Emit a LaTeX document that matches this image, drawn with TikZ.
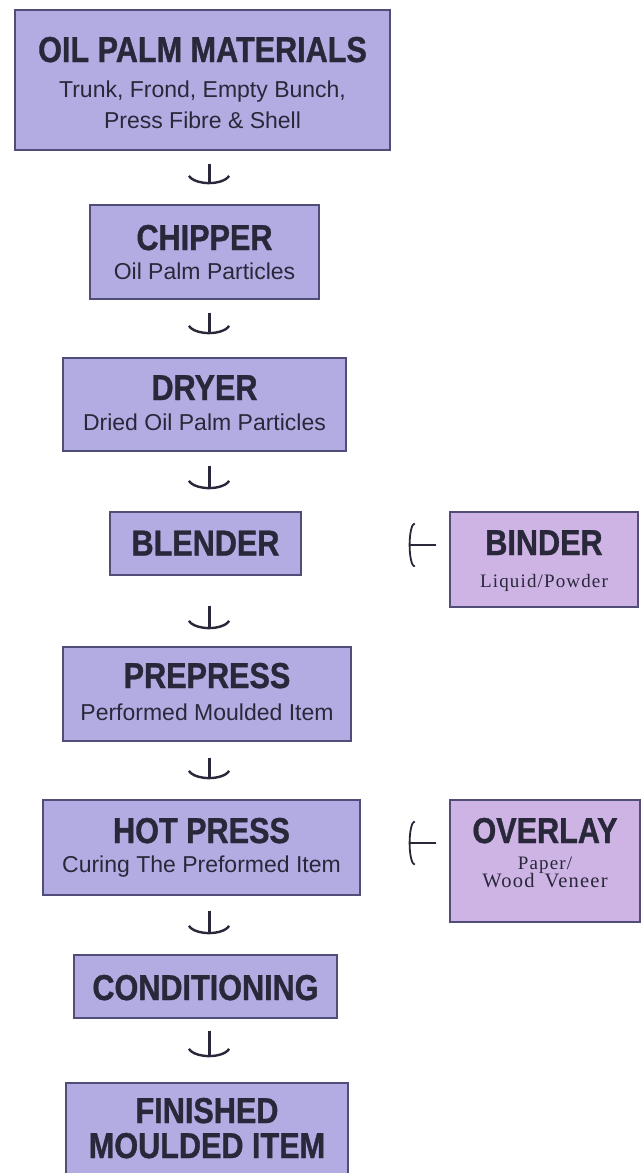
\documentclass[tikz,border=0pt]{standalone}
\usepackage{fontspec}
\setmainfont{Liberation Sans}
\newfontfamily\hdfont[FakeStretch=0.85,FakeBold=1]{Liberation Sans}
\newfontfamily\serfont[LetterSpace=6]{Liberation Serif}
\usetikzlibrary{arrows.meta}
\definecolor{boxfill}{RGB}{178,172,226}
\definecolor{sidefill}{RGB}{206,180,228}
\definecolor{boxline}{RGB}{80,78,120}
\definecolor{ink}{RGB}{40,40,58}
\newcommand\myflow[5]{%
  \draw[#1,stemline,shorten <=#4,shorten >=#5] #2 -- #3;
  \draw[#1,shorten <=#4,shorten >=#5] #2 -- #3;}
\begin{document}
\begin{tikzpicture}[x=1pt,y=-1pt,
  stepbox/.style={draw=boxline,line width=1.4pt,fill=boxfill,inner sep=0pt},
  sidebox/.style={stepbox,fill=sidefill},
  ttl/.style={anchor=base,inner sep=0pt,text=ink,font=\hdfont\bfseries\fontsize{36}{36}\selectfont},
  sub/.style={anchor=base,inner sep=0pt,text=ink,font=\fontsize{23}{23}\selectfont},
  ser/.style={anchor=base,inner sep=0pt,text=ink,font=\serfont\fontsize{19}{19}\selectfont},
  flow/.style={draw=ink,line width=3pt,
    -{Arc Barb[length=11pt,width=44pt,arc=150,line width=2.4pt 0]}},
  side/.style={draw=ink,line width=2.6pt,
    -{Arc Barb[length=6pt,width=45pt,arc=180,line width=1.8pt 0]}},
  stemline/.style={arrows=-}]
\useasboundingbox[fill=white] (0,0) rectangle (642,1173);
% boxes
\node[stepbox,minimum width=375pt,minimum height=140pt] (oil) at (202.5,80) {};
\node[stepbox,minimum width=229pt,minimum height=94pt] (chip) at (204.5,252) {};
\node[stepbox,minimum width=283pt,minimum height=93pt] (dry) at (204.5,404.5) {};
\node[stepbox,minimum width=191pt,minimum height=63pt] (blend) at (205.5,543.5) {};
\node[sidebox,minimum width=188pt,minimum height=95pt] (bind) at (544,559.5) {};
\node[stepbox,minimum width=288pt,minimum height=94pt] (pre) at (207,694) {};
\node[stepbox,minimum width=317pt,minimum height=95pt] (hot) at (201.5,847.5) {};
\node[sidebox,minimum width=190pt,minimum height=122pt] (over) at (545,861) {};
\node[stepbox,minimum width=263pt,minimum height=63pt] (cond) at (205.5,986.5) {};
\node[stepbox,minimum width=282pt,minimum height=107pt] (fin) at (207,1136.5) {};
% texts
\node[ttl] (oilt) at ([yshift=18pt]oil.center) {OIL PALM MATERIALS};
\node[sub] (oils1) at ([yshift=-17pt]oil.center) {Trunk, Frond, Empty Bunch,};
\node[sub] (oils2) at ([yshift=-48pt]oil.center) {Press Fibre \& Shell};
\node[ttl] (chipt) at ([yshift=2pt]chip.center) {CHIPPER};
\node[sub] (chips) at ([yshift=-27pt]chip.center) {Oil Palm Particles};
\node[ttl] (dryt) at ([yshift=4.5pt]dry.center) {DRYER};
\node[sub] (drys) at ([yshift=-25.5pt]dry.center) {Dried Oil Palm Particles};
\node[ttl] (blendt) at ([yshift=-12pt]blend.center) {BLENDER};
\node[ttl] (bindt) at ([yshift=4.5pt]bind.center) {BINDER};
\node[ser] (binds) at ([yshift=-27.5pt]bind.center) {Liquid/Powder};
\node[ttl] (pret) at ([yshift=6pt]pre.center) {PREPRESS};
\node[sub] (pres) at ([yshift=-26pt]pre.center) {Performed Moulded Item};
\node[ttl] (hott) at ([yshift=4.5pt]hot.center) {HOT PRESS};
\node[sub] (hots) at ([yshift=-24.5pt]hot.center) {Curing The Preformed Item};
\node[ttl] (overt) at ([yshift=18pt]over.center) {OVERLAY};
\node[ser] (overs1) at ([yshift=-8pt]over.center) {Paper/};
\node[ser,font=\serfont\fontsize{20.5}{20.5}\selectfont] (overs2) at ([yshift=-26pt]over.center) {Wood\hspace{10pt}Veneer};
\node[ttl] (condt) at ([yshift=-13.5pt]cond.center) {CONDITIONING};
\node[ttl] (fint1) at ([yshift=13.5pt]fin.center) {FINISHED};
\node[ttl] (fint2) at ([yshift=-21.5pt]fin.center) {MOULDED ITEM};
% connectors
\coordinate (stem) at (209,0);
\myflow{flow}{(oil.south -| stem)}{(chip.north -| stem)}{13pt}{20pt}
\myflow{flow}{(chip.south -| stem)}{(dry.north -| stem)}{13pt}{23pt}
\myflow{flow}{(dry.south -| stem)}{(blend.north -| stem)}{14pt}{22pt}
\myflow{flow}{(blend.south -| stem)}{(pre.north -| stem)}{30pt}{17pt}
\myflow{flow}{(pre.south -| stem)}{(hot.north -| stem)}{16pt}{20pt}
\myflow{flow}{(hot.south -| stem)}{(cond.north -| stem)}{15pt}{20pt}
\myflow{flow}{(cond.south -| stem)}{(fin.north -| stem)}{12pt}{25pt}
\coordinate (blendin) at ([yshift=-1.5pt]blend.east);
\coordinate (hotin) at ([yshift=4.5pt]hot.east);
\myflow{side}{(bind.west |- blendin)}{(blendin)}{13pt}{107pt}
\myflow{side}{(over.west |- hotin)}{(hotin)}{13pt}{48pt}
\end{tikzpicture}
\end{document}
